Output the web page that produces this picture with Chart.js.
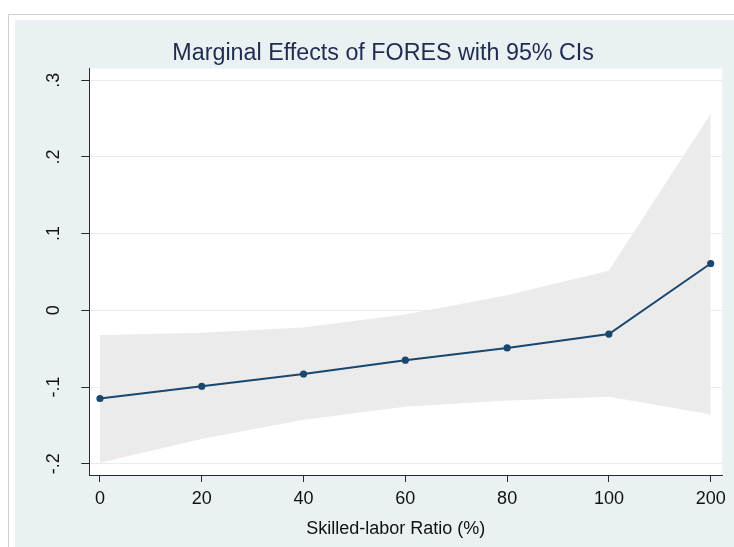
<!DOCTYPE html>
<html>
<head>
<meta charset="utf-8">
<script src="https://cdn.jsdelivr.net/npm/chart.js@4/dist/chart.umd.min.js"></script>
<style>
  html, body { margin: 0; padding: 0; background: #ffffff; }
  #wrap { position: relative; width: 734px; height: 547px; }
</style>
</head>
<body>
<div id="wrap"><canvas id="c" width="734" height="547"></canvas></div>
<script>
// ---- data ----
const xLabels = ['0', '20', '40', '60', '80', '100', '200'];
const effect  = [-0.115, -0.099, -0.083, -0.065, -0.049, -0.031, 0.061];
const ciUpper = [-0.033, -0.030, -0.023, -0.006, 0.019, 0.051, 0.255];
const ciLower = [-0.198, -0.167, -0.142, -0.125, -0.117, -0.112, -0.135];
const yTickValues = [-0.2, -0.1, 0, 0.1, 0.2, 0.3];

const FONT = '"Liberation Sans", Arial, Helvetica, sans-serif';
const BG = '#EAF1F3';

function pts(arr) { return arr.map((v, i) => ({ x: i, y: v })); }
function fmtY(v) {
  const r = Math.round(v * 10) / 10;
  if (r === 0) return '0';
  return String(r).replace('0.', '.');
}

const framePlugin = {
  id: 'frame',
  beforeDraw(chart) {
    const ctx = chart.ctx;
    const a = chart.chartArea;
    ctx.save();
    ctx.fillStyle = '#ffffff';
    ctx.fillRect(0, 0, chart.width, chart.height);
    ctx.strokeStyle = '#d0d0d0';
    ctx.lineWidth = 1;
    ctx.beginPath();
    ctx.moveTo(8.5, chart.height + 2);
    ctx.lineTo(8.5, 14.5);
    ctx.lineTo(chart.width + 2, 14.5);
    ctx.stroke();
    ctx.fillStyle = BG;
    ctx.fillRect(15, 20, chart.width - 15, chart.height - 20);
    ctx.fillStyle = '#ffffff';
    ctx.fillRect(a.left, a.top, a.right - a.left, a.bottom - a.top);
    ctx.restore();
  }
};

new Chart(document.getElementById('c'), {
  type: 'line',
  data: {
    datasets: [
      {
        label: 'Marginal effect',
        data: pts(effect),
        borderColor: '#1A476F',
        backgroundColor: '#1A476F',
        borderWidth: 2,
        pointRadius: 3.6,
        pointBorderWidth: 0,
        pointBackgroundColor: '#1A476F',
        fill: false,
        tension: 0
      },
      {
        label: 'Upper 95% CI',
        data: pts(ciUpper),
        borderColor: '#EBEBEB',
        backgroundColor: '#EBEBEB',
        borderWidth: 1,
        pointRadius: 0,
        fill: '+1',
        tension: 0
      },
      {
        label: 'Lower 95% CI',
        data: pts(ciLower),
        borderColor: '#EBEBEB',
        backgroundColor: '#EBEBEB',
        borderWidth: 1,
        pointRadius: 0,
        fill: false,
        tension: 0
      }
    ]
  },
  options: {
    responsive: false,
    animation: false,
    devicePixelRatio: 1,
    layout: { padding: { left: 44, right: 11.7, top: 0, bottom: 0 } },
    plugins: {
      legend: { display: false },
      tooltip: { enabled: false },
      title: {
        display: true,
        text: 'Marginal Effects of FORES with 95% CIs',
        color: '#1F2B4F',
        font: { family: FONT, size: 23.3, weight: 'normal', lineHeight: 1.2 },
        padding: { top: 39.5, bottom: 1.0 }
      }
    },
    scales: {
      x: {
        type: 'linear',
        min: -0.105,
        max: 6.114,
        border: { display: true, color: '#2a2a2a', width: 1 },
        grid: { display: true, drawOnChartArea: false, drawTicks: true, tickLength: 7, tickColor: '#2a2a2a', color: '#2a2a2a' },
        afterBuildTicks(scale) { scale.ticks = xLabels.map((_, i) => ({ value: i })); },
        afterFit(scale) { scale.height = 72; },
        ticks: {
          autoSkip: false,
          maxRotation: 0,
          minRotation: 0,
          padding: 6,
          color: '#111111',
          font: { family: FONT, size: 18 },
          callback: (v) => xLabels[v] !== undefined ? xLabels[v] : ''
        },
        title: {
          display: true,
          text: 'Skilled-labor Ratio (%)    ',
          color: '#111111',
          font: { family: FONT, size: 18, lineHeight: 1.2 },
          padding: { top: 0, bottom: 6.7 }
        }
      },
      y: {
        type: 'linear',
        min: -0.2147,
        max: 0.3153,
        border: { display: true, color: '#2a2a2a', width: 1 },
        grid: { display: true, drawOnChartArea: true, drawTicks: true, tickLength: 8, tickColor: '#2a2a2a', color: '#E4EDF0', lineWidth: 1 },
        afterBuildTicks(scale) { scale.ticks = yTickValues.map(v => ({ value: v })); },
        afterFit(scale) { scale.width = 45.3; },
        ticks: {
          minRotation: 90,
          maxRotation: 90,
          crossAlign: 'center',
          padding: 17,
          color: '#111111',
          font: { family: FONT, size: 18 },
          callback: (v) => fmtY(v)
        }
      }
    }
  },
  plugins: [framePlugin]
});
</script>
</body>
</html>
